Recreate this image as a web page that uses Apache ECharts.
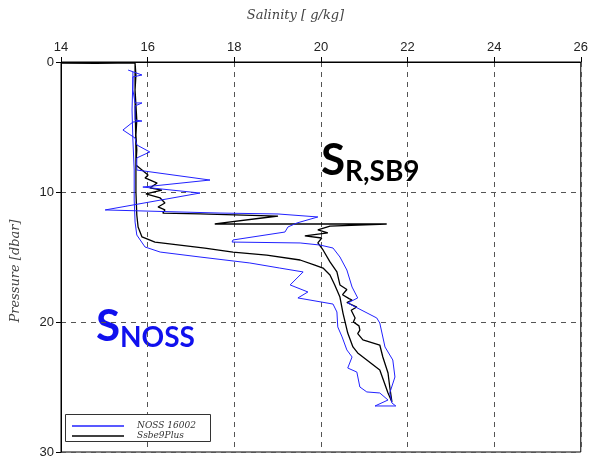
<!DOCTYPE html>
<html>
<head>
<meta charset="utf-8">
<script src="https://cdn.jsdelivr.net/npm/echarts@6/dist/echarts.min.js"></script>
<style>
  html, body { margin: 0; padding: 0; background: #fff; }
  #chart { width: 591px; height: 459px; }
</style>
</head>
<body>
<div id="chart"></div>
<script>
// Salinity ticks (top axis) and pressure ticks (left axis, increasing downward)
const salinityTicks = [14, 16, 18, 20, 22, 24, 26];
const pressureTicks = [0, 10, 20, 30];

// NOSS 16002 profile: downcast followed by upcast
const nossSalinity = [
  15.55, 15.87, 15.66, 15.66, 15.71, 15.87, 15.71, 15.71, 15.87, 15.66,
  15.43, 15.71, 15.75, 16.05, 15.75, 15.75, 17.44, 15.89, 17.21, 15.02,
  17.67, 19.01, 19.93, 19.45, 19.24, 19.17, 17.97, 17.95, 19.52, 19.98,
  20.28, 20.44, 20.60, 20.72, 20.85, 20.62, 21.29, 21.36, 21.48, 21.66,
  21.71, 21.59, 21.64, 21.73, 21.25,
  21.55, 21.36, 21.06, 20.90, 20.83, 20.62, 20.72, 20.60, 20.49, 20.39,
  20.37, 20.28, 19.47, 19.70, 19.29, 19.59, 19.05, 18.36, 17.21, 16.29,
  15.94, 15.75, 15.71, 15.69, 15.69, 15.66, 15.64, 15.66, 15.66
];
const nossPressure = [
  0.62, 1.00, 1.15, 2.15, 3.15, 3.15, 3.38, 4.46, 4.54, 4.62,
  5.23, 5.85, 6.38, 6.92, 7.38, 8.31, 9.08, 9.62, 10.08, 11.38,
  11.62, 11.69, 11.92, 12.38, 12.69, 13.08, 13.69, 13.85, 13.92, 14.08,
  14.31, 15.00, 16.00, 17.31, 18.15, 18.54, 19.69, 20.08, 21.92, 22.92,
  24.23, 25.46, 26.23, 26.46, 26.46,
  26.00, 25.46, 25.38, 25.00, 23.85, 23.54, 22.69, 22.15, 21.15, 20.38,
  19.23, 18.62, 18.15, 17.69, 17.15, 16.15, 15.85, 15.46, 15.00, 14.62,
  14.23, 13.31, 12.31, 10.62, 8.31, 6.00, 3.69, 1.38, 0.77
];

// Ssbe9Plus profile: surface segment, downcast, then upcast
const sbeSalinity = [
  14.00, 14.80, 15.30, 15.71,
  15.71, 15.73, 15.71, 15.73, 15.75, 15.73, 15.75, 15.73, 16.01, 15.94,
  16.22, 16.05, 16.33, 15.96, 16.29, 16.40, 16.24, 16.40, 16.35, 17.21,
  19.01, 18.64, 17.55, 21.52, 20.21, 19.93, 20.16, 19.63, 20.02, 19.93,
  20.05, 20.21, 20.37, 20.44, 20.60, 20.50, 20.65, 20.72, 20.60, 20.83,
  20.70, 20.79, 20.75, 20.88, 20.90, 20.85, 20.97, 21.36, 21.43, 21.55,
  21.59, 21.64,
  21.55, 21.36, 21.06, 20.85, 20.74, 20.62, 20.51, 20.44, 20.32, 20.21,
  20.05, 19.86, 19.52, 18.75, 17.97, 17.32, 16.17, 15.87, 15.78, 15.75,
  15.73, 15.73, 15.71, 15.71
];
const sbePressure = [
  0.08, 0.10, 0.09, 0.08,
  0.08, 1.00, 2.15, 3.31, 4.46, 5.62, 6.77, 7.92, 8.69, 8.92,
  9.31, 9.69, 9.85, 10.15, 10.46, 10.85, 11.15, 11.38, 11.62, 11.69,
  11.85, 12.00, 12.46, 12.46, 12.62, 12.92, 13.15, 13.38, 13.54, 13.92,
  14.46, 15.38, 16.15, 17.15, 17.50, 17.90, 18.20, 18.31, 18.50, 18.85,
  19.10, 19.69, 20.00, 20.30, 20.62, 20.90, 21.38, 21.77, 22.69, 23.92,
  25.00, 26.15,
  25.46, 23.69, 22.92, 22.38, 21.92, 20.85, 19.31, 18.08, 17.15, 16.38,
  15.85, 15.62, 15.23, 14.85, 14.62, 14.31, 13.85, 13.46, 12.69, 11.77,
  10.00, 6.77, 2.92, 0.00
];

const zip = (xs, ys) => xs.map((x, i) => [x, ys[i]]);

const BLUE = '#2222ff';
const serifItalic = { fontFamily: 'DejaVu Serif', fontStyle: 'italic' };

const chart = echarts.init(document.getElementById('chart'), null, { renderer: 'canvas' });

chart.setOption({
  animation: false,
  backgroundColor: '#ffffff',
  grid: {
    left: 61, right: 10, top: 62, bottom: 7,
    show: true, borderColor: '#000', borderWidth: 1, backgroundColor: 'transparent'
  },
  xAxis: {
    type: 'value',
    position: 'top',
    min: salinityTicks[0],
    max: salinityTicks[salinityTicks.length - 1],
    interval: salinityTicks[1] - salinityTicks[0],
    axisLine: { show: true, lineStyle: { color: '#000', width: 1 } },
    axisTick: { show: true, inside: false, length: 5, lineStyle: { color: '#000' } },
    axisLabel: { color: '#222', fontFamily: 'Liberation Sans', fontSize: 13, margin: 8 },
    splitLine: { show: true, lineStyle: { color: '#555', type: [5, 5], width: 1 } }
  },
  yAxis: {
    type: 'value',
    inverse: true,
    min: pressureTicks[0],
    max: pressureTicks[pressureTicks.length - 1],
    interval: pressureTicks[1] - pressureTicks[0],
    axisLine: { show: true, lineStyle: { color: '#000', width: 1 } },
    axisTick: { show: true, inside: false, length: 5, lineStyle: { color: '#000' } },
    axisLabel: { color: '#222', fontFamily: 'Liberation Sans', fontSize: 13, margin: 7 },
    splitLine: { show: true, lineStyle: { color: '#555', type: [5, 5], width: 1 } }
  },
  legend: {
    orient: 'vertical',
    left: 72, top: 421,
    padding: 0,
    z: 20,
    icon: 'rect',
    itemWidth: 52, itemHeight: 1.5, itemGap: 0,
    data: ['NOSS 16002', 'Ssbe9Plus'],
    textStyle: Object.assign({ color: '#333', fontSize: 9, lineHeight: 10,
      padding: [0, 0, 0, 8] }, serifItalic)
  },
  series: [
    {
      name: 'Ssbe9Plus',
      type: 'line',
      data: zip(sbeSalinity, sbePressure),
      symbol: 'none',
      lineStyle: { color: '#000', width: 1.3 },
      itemStyle: { color: '#000' },
      z: 2
    },
    {
      name: 'NOSS 16002',
      type: 'line',
      data: zip(nossSalinity, nossPressure),
      symbol: 'none',
      lineStyle: { color: BLUE, width: 1 },
      itemStyle: { color: BLUE },
      z: 3
    }
  ],
  graphic: [
    {
      type: 'text', left: 'center', top: 9,
      style: Object.assign({ text: 'Salinity [ g/kg]', fill: '#444', fontSize: 13 }, serifItalic)
    },
    {
      type: 'text', x: 16, y: 271, rotation: Math.PI / 2,
      style: Object.assign({ text: 'Pressure [dbar]', fill: '#444', fontSize: 13,
        align: 'center', verticalAlign: 'middle' }, serifItalic)
    },
    {
      type: 'rect', shape: { x: 65.5, y: 414.5, width: 145, height: 27 },
      style: { fill: '#fff', stroke: '#333', lineWidth: 1 }, z: 5
    },
    {
      type: 'text', x: 321, y: 161,
      style: { text: 'S', fill: '#000', fontFamily: 'Lato', fontWeight: 'bold', fontSize: 44,
        verticalAlign: 'middle' }
    },
    {
      type: 'text', x: 345, y: 172,
      style: { text: 'R,SB9', fill: '#000', fontFamily: 'Lato', fontWeight: 'bold', fontSize: 28,
        verticalAlign: 'middle' }
    },
    {
      type: 'text', x: 96, y: 327,
      style: { text: 'S', fill: '#1010ee', fontFamily: 'Lato', fontWeight: 'bold', fontSize: 44,
        verticalAlign: 'middle' }
    },
    {
      type: 'text', x: 120, y: 338,
      style: { text: 'NOSS', fill: '#1010ee', fontFamily: 'Lato', fontWeight: 'bold', fontSize: 28,
        verticalAlign: 'middle' }
    }
  ]
});
</script>
</body>
</html>
